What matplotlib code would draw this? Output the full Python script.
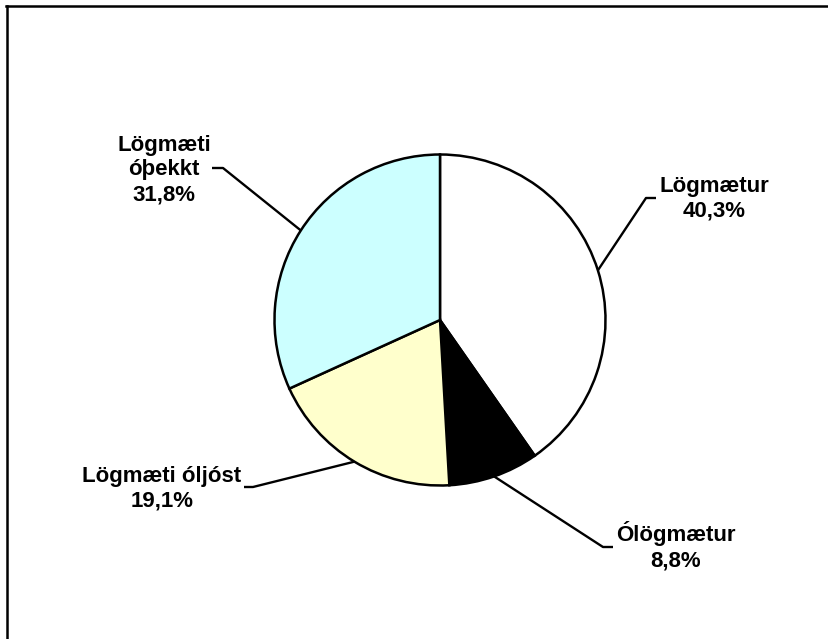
import numpy as np
import matplotlib
matplotlib.use("Agg")
import matplotlib.pyplot as plt
from matplotlib.lines import Line2D

categories = ["Lögmætur", "Ólögmætur", "Lögmæti óljóst", "Lögmæti\nóþekkt"]
values = [40.3, 8.8, 19.1, 31.8]
value_labels = ["40,3%", "8,8%", "19,1%", "31,8%"]
colors = ["#FFFFFF", "#000000", "#FFFFCC", "#CCFFFF"]

W, H = 829, 639
fig = plt.figure(figsize=(W / 100, H / 100), dpi=100)
fig.patch.set_facecolor("white")

# pie center / radius in pixels (layout)
cx, cy, R = 440, 320, 165.5
ax = fig.add_axes([0, 0, 1, 1])
ax.axis("off")

wedges, _ = ax.pie(values, colors=colors, startangle=90, counterclock=False,
                   radius=1, center=(0, 0),
                   wedgeprops=dict(edgecolor="black", linewidth=1.8))
ax.set_xlim((0 - cx) / R, (W - cx) / R)
ax.set_ylim((cy - H) / R, cy / R)
ax.set_aspect("equal", adjustable="datalim")

def px(x, y):
    return ((x - cx) / R, (cy - y) / R)

# layout for leader lines (elbow, end) and text in pixel coordinates
layout = [
    dict(elbow=(646, 198), end=(656, 198), text=(714, 199)),
    dict(elbow=(603, 547), end=(613, 547), text=(676, 546)),
    dict(elbow=(253, 487), end=(244, 487), text=(162, 489)),
    dict(elbow=(223, 168), end=(212, 168), text=(164, 170)),
]

for w, cat, vl, lay in zip(wedges, categories, value_labels, layout):
    ang = np.deg2rad((w.theta1 + w.theta2) / 2)
    ex, ey = np.cos(ang), np.sin(ang)
    ebx, eby = px(*lay["elbow"])
    enx, eny = px(*lay["end"])
    ax.plot([ex, ebx, enx], [ey, eby, eny], color="black", lw=1.7,
            solid_capstyle="butt", zorder=5)
    tx, ty = px(*lay["text"])
    ax.text(tx, ty, f"{cat}\n{vl}", ha="center", va="center",
            fontsize=16, fontweight="bold", family="Liberation Sans",
            linespacing=1.25, multialignment="center")

# chart border (top and left visible)
fig.add_artist(Line2D([6 / W, 1.0], [1 - 6 / H, 1 - 6 / H], color="black", lw=1.8,
                      transform=fig.transFigure))
fig.add_artist(Line2D([7 / W, 7 / W], [0, 1 - 6 / H], color="black", lw=1.8,
                      transform=fig.transFigure))

fig.savefig("out.png", dpi=100, facecolor="white")
